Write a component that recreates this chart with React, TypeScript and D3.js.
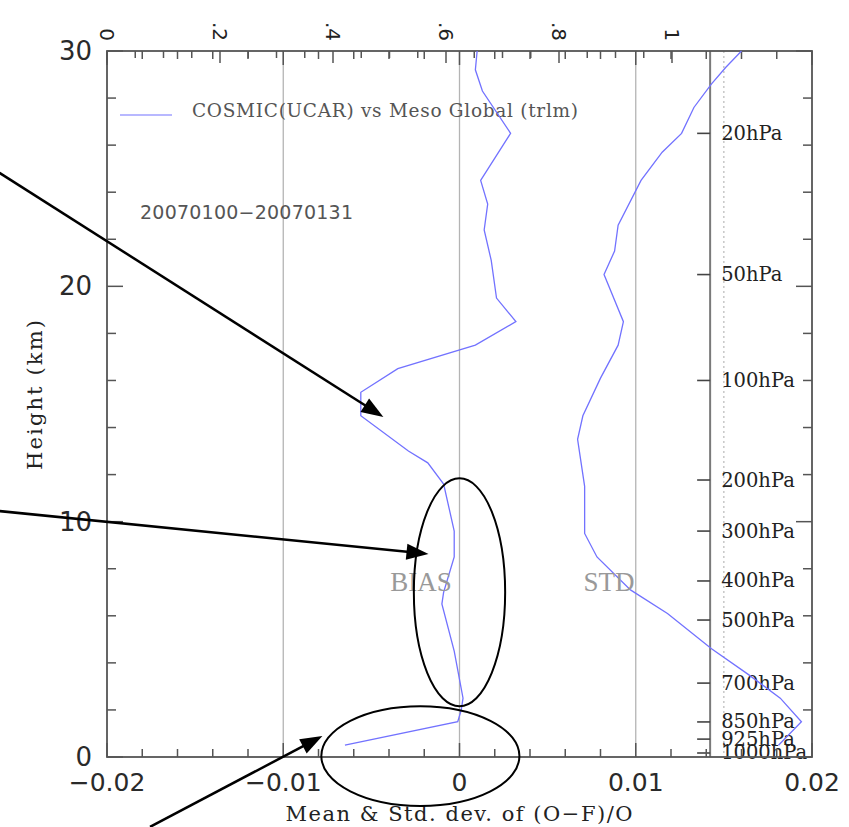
import React from "react";
import * as d3 from "d3";

// Profile heights (km) and mean of (O-F)/O
const biasHeight = [30.0, 29.2, 28.3, 26.5, 24.5, 23.5, 22.4, 21.1, 19.5, 18.5, 17.5, 16.5, 15.5, 14.5, 13.0, 12.5, 11.6, 9.6, 8.5, 7.0, 6.5, 4.5, 2.5, 2.0, 1.5, 0.5];
const biasValue = [0.001, 0.0009, 0.0013, 0.0029, 0.0012, 0.0016, 0.0014, 0.0018, 0.0021, 0.0032, 0.0009, -0.0035, -0.0056, -0.0056, -0.0029, -0.0018, -0.0009, -0.0003, -0.0003, -0.0009, -0.001, -0.0003, 0.0002, 0.0001, -0.0001, -0.0065];

// Profile heights (km) and standard deviation of (O-F)/O
const stdHeight = [30.0, 29.3, 28.6, 27.6, 26.5, 25.7, 24.5, 22.6, 21.5, 20.5, 18.5, 17.5, 16.1, 14.5, 13.5, 11.5, 9.5, 8.5, 7.1, 6.1, 4.6, 3.5, 2.5, 1.5, 0.5];
const stdValue = [0.016, 0.0151, 0.0143, 0.0133, 0.0126, 0.0115, 0.0103, 0.009, 0.0088, 0.0082, 0.0093, 0.009, 0.008, 0.007, 0.0067, 0.0071, 0.0071, 0.0078, 0.0097, 0.0118, 0.0143, 0.0164, 0.0182, 0.0194, 0.0181];

// Pressure reference levels and their heights (km)
const pressureLabels = ["20hPa", "50hPa", "100hPa", "200hPa", "300hPa", "400hPa", "500hPa", "700hPa", "850hPa", "925hPa", "1000hPa"];
const pressureHeights = [26.5, 20.5, 16.0, 11.77, 9.6, 7.48, 5.82, 3.14, 1.49, 0.76, 0.17];

// Axis tick labels
const xTickValues = [-0.02, -0.01, 0, 0.01, 0.02];
const xTickLabels = ["\u22120.02", "\u22120.01", "0", "0.01", "0.02"];
const yTickValues = [0, 10, 20, 30];
const topTickValues = [0, 0.2, 0.4, 0.6, 0.8, 1];
const topTickLabels = ["0", ".2", ".4", ".6", ".8", "1"];
const gridValues = [-0.01, 0, 0.01];

const pressureAxisValue = 0.01422;
const dottedRefValue = 0.015;

// Callout annotations in data units [value, height]
const arrowFrom = [[-0.0261, 24.82], [-0.0261, 10.45], [-0.01756, -2.97]];
const arrowTo = [[-0.00432, 14.45], [-0.00176, 8.63], [-0.00778, 0.89]];
const ellipseCenter = [[0, 7.0], [-0.00222, 0.04]];
const ellipseRadius = [[0.00259, 4.84], [0.00562, 2.12]];

const W = 849;
const H = 827;
const x = d3.scaleLinear().domain([-0.02, 0.02]).range([107, 812]);
const y = d3.scaleLinear().domain([0, 30]).range([757, 51]);
const xTop = d3.scaleLinear().domain([0, 1]).range([107, 672]);

const CURVE = "#7272ff";
const AXIS = "#555";

export default function App() {
  const bias = biasHeight.map((h, i) => ({ h, v: biasValue[i] }));
  const std = stdHeight.map((h, i) => ({ h, v: stdValue[i] }));
  const line = d3
    .line<{ h: number; v: number }>()
    .x((d) => x(d.v))
    .y((d) => y(d.h));

  const [x0, x1] = x.range();
  const [yb, yt] = y.range();

  const sideTicks = d3.range(0, 31, 2);
  const bottomTicks = d3.range(-10, 11).map((i) => i * 0.002);
  const topMinor = d3.range(0, 21).map((i) => i * 0.05);
  const px = x(pressureAxisValue);

  const arrows = arrowFrom.map((f, i) => {
    const sx = x(f[0]), sy = y(f[1]);
    const tx = x(arrowTo[i][0]), ty = y(arrowTo[i][1]);
    const dx = tx - sx, dy = ty - sy;
    const len = Math.hypot(dx, dy);
    const ux = dx / len, uy = dy / len;
    const L = 22, w = 16;
    const bx = tx - ux * L, by = ty - uy * L;
    const pts = [
      [tx, ty],
      [bx - uy * w / 2, by + ux * w / 2],
      [bx + uy * w / 2, by - ux * w / 2],
    ];
    return { sx, sy, ex: bx + ux * 3, ey: by + uy * 3, pts };
  });

  return (
    <div style={{ position: "absolute", left: 0, top: 0 }}>
      <svg width={W} height={H} style={{ display: "block", background: "#fff" }}>
        {/* grid lines */}
        {gridValues.map((v) => (
          <line key={"g" + v} x1={x(v)} x2={x(v)} y1={yt} y2={yb} stroke="#b4b4b4" strokeWidth={1.3} />
        ))}
        {/* pressure reference axis and dotted reference */}
        <line x1={x(dottedRefValue)} x2={x(dottedRefValue)} y1={yt} y2={yb} stroke="#aaa" strokeWidth={1} strokeDasharray="2,3" />
        <line x1={px} x2={px} y1={yt} y2={yb} stroke="#7a7a7a" strokeWidth={2} />
        {pressureHeights.map((h, i) => (
          <g key={"p" + i}>
            <line x1={px - 13} x2={px} y1={y(h)} y2={y(h)} stroke="#444" strokeWidth={1.6} />
            <text x={px + 11} y={y(h)} dominantBaseline="central" fontFamily="DejaVu Serif" fontSize={19.5} fill="#222">
              {pressureLabels[i]}
            </text>
          </g>
        ))}

        {/* frame */}
        <rect x={x0} y={yt} width={x1 - x0} height={yb - yt} fill="none" stroke={AXIS} strokeWidth={1.8} />

        {/* left and right ticks */}
        {sideTicks.map((h) => {
          const len = h % 10 === 0 ? 16 : 9;
          return (
            <g key={"s" + h}>
              <line x1={x0} x2={x0 + len} y1={y(h)} y2={y(h)} stroke={AXIS} strokeWidth={1.5} />
              <line x1={x1} x2={x1 - len} y1={y(h)} y2={y(h)} stroke={AXIS} strokeWidth={1.5} />
            </g>
          );
        })}
        {/* bottom ticks mirrored on the top edge */}
        {bottomTicks.map((v, i) => {
          const len = Math.round(v * 1000) % 10 === 0 ? 14 : 8;
          return (
            <g key={"b" + i}>
              <line x1={x(v)} x2={x(v)} y1={yb} y2={yb - len} stroke={AXIS} strokeWidth={1.5} />
              <line x1={x(v)} x2={x(v)} y1={yt} y2={yt + len} stroke={AXIS} strokeWidth={1.5} />
            </g>
          );
        })}
        {/* secondary top scale */}
        {topMinor.map((v, i) => (
          <line key={"t" + i} x1={xTop(v)} x2={xTop(v)} y1={yt} y2={yt + (i % 4 === 0 ? 12 : 7)} stroke={AXIS} strokeWidth={1.5} />
        ))}
        {topTickValues.map((v, i) => (
          <text key={"tl" + i} transform={`translate(${xTop(v)},41) rotate(90)`} textAnchor="end" dominantBaseline="central" fontFamily="DejaVu Sans" fontSize={20} fill="#222">
            {topTickLabels[i]}
          </text>
        ))}

        {/* axis tick labels */}
        {xTickValues.map((v, i) => (
          <text key={"xl" + i} x={x(v)} y={791} textAnchor="middle" fontFamily="DejaVu Sans" fontSize={25} fill="#2a2a2a">
            {xTickLabels[i]}
          </text>
        ))}
        {yTickValues.map((h) => (
          <text key={"yl" + h} x={92} y={y(h)} textAnchor="end" dominantBaseline="central" fontFamily="DejaVu Sans" fontSize={26} fill="#2a2a2a">
            {h}
          </text>
        ))}
        <text x={459} y={821} textAnchor="middle" fontFamily="DejaVu Serif" fontSize={21} textLength={347} lengthAdjust="spacing" fill="#222">
          Mean &amp; Std. dev. of (O{"\u2212"}F)/O
        </text>
        <text transform="translate(42,395) rotate(-90)" textAnchor="middle" fontFamily="DejaVu Serif" fontSize={21} textLength={150} lengthAdjust="spacing" fill="#222">
          Height (km)
        </text>

        {/* legend and period */}
        <line x1={120} x2={172} y1={115} y2={115} stroke={CURVE} strokeWidth={1.2} />
        <text x={192} y={117} fontFamily="DejaVu Serif" fontSize={18.5} textLength={386} lengthAdjust="spacing" fill="#555">
          COSMIC(UCAR) vs Meso Global (trlm)
        </text>
        <text x={140} y={219} fontFamily="DejaVu Sans" fontSize={19} textLength={213} lengthAdjust="spacing" fill="#555">
          20070100{"\u2212"}20070131
        </text>

        {/* profiles */}
        <path d={line(bias) || ""} fill="none" stroke={CURVE} strokeWidth={1.3} />
        <path d={line(std) || ""} fill="none" stroke={CURVE} strokeWidth={1.3} />

        <text x={421} y={582} textAnchor="middle" dominantBaseline="central" fontFamily="Liberation Serif" fontSize={27} fill="#999">
          BIAS
        </text>
        <text x={609} y={582} textAnchor="middle" dominantBaseline="central" fontFamily="Liberation Serif" fontSize={27} fill="#999">
          STD
        </text>

        {/* callouts */}
        {ellipseCenter.map((c, i) => (
          <ellipse key={"e" + i} cx={x(c[0])} cy={y(c[1])} rx={x(ellipseRadius[i][0]) - x(0)} ry={y(0) - y(ellipseRadius[i][1])} fill="none" stroke="#000" strokeWidth={2} />
        ))}
        {arrows.map((a, i) => (
          <g key={"a" + i}>
            <line x1={a.sx} y1={a.sy} x2={a.ex} y2={a.ey} stroke="#000" strokeWidth={2.5} />
            <polygon points={a.pts.map((p) => p.join(",")).join(" ")} fill="#000" />
          </g>
        ))}
      </svg>
    </div>
  );
}
